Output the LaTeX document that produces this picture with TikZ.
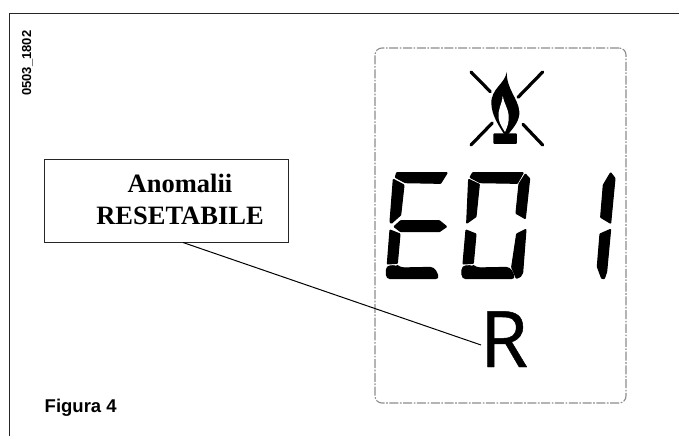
\documentclass[tikz,border=0pt]{standalone}
\usepackage{fontspec}
\setmainfont{Liberation Serif}
\setsansfont{Liberation Sans}
\newfontfamily\rfont[FakeBold=0.6]{Open Sans}
\tikzset{
  seg/.style={fill=black,draw=black,line width=1.1pt,line join=round,rounded corners=0.6pt},
  xline/.style={draw=black,line width=3.2pt,line cap=round},
  boxlabel/.style={draw=black!85,line width=1pt,fill=white,inner sep=0pt,minimum width=243.5pt,minimum height=83pt,align=center},
  dashframe/.style={draw=black!45,line width=1.1pt,rounded corners=7pt,dash pattern=on 9pt off 1.6pt on 1.6pt off 1.6pt},
  zoomA/.style={shift={(360,40)},x=0.3333pt,y=-0.3333pt},
  zoomB/.style={shift={(370,160)},x=0.3333pt,y=-0.3333pt}
}
\begin{document}
\begin{tikzpicture}[x=1pt,y=-1pt]
\useasboundingbox (0,0) rectangle (679,436);
% page frame
\coordinate (fa) at (9.5,436);
\coordinate (fb) at (9.5,13.5);
\coordinate (fc) at (679,13.5);
\draw[black!85,line width=1.1pt] (fa) -- (fb) -- (fc);
% reference code
\node[rotate=90,anchor=south west,inner sep=0pt,font=\sffamily\bfseries\fontsize{13}{13}\selectfont] (code) at (33,96) {0503\_1802};
% display frame
\node[dashframe,minimum width=251pt,minimum height=355pt,inner sep=0pt] (disp) at (500.5,225.5) {};
% flame symbol
\begin{scope}[zoomA]
  \draw[xline] (333,96) -- (391,155);
  \draw[xline] (548,96) -- (474,172);
  \draw[xline] (333,315) -- (397,249);
  \draw[xline] (548,315) -- (489,253);
  \fill[black] (440,95) .. controls (437,130) and (393,145) .. (394,190)
     .. controls (395,225) and (415,255) .. (432,282)
     -- (445,282) .. controls (462,262) and (480,240) .. (478,215)
     .. controls (475,175) and (440,150) .. (440,95) -- cycle;
  \fill[white] (428,168) .. controls (426,195) and (413,205) .. (416,235)
     .. controls (418,250) and (428,265) .. (435,276)
     .. controls (442,262) and (448,245) .. (446,225)
     .. controls (444,205) and (432,190) .. (428,168) -- cycle;
  \fill[black,rounded corners=1pt] (400,280) rectangle (471,312);
\end{scope}
% seven-segment digits
\begin{scope}[zoomB]
  % E
  \path[seg] (80,38) -- (232,38) -- (212,70) -- (106,68) -- (76,52) -- cycle;
  \path[seg] (70,58) -- (102,75) -- (92,165) -- (64,190) -- (60,186) -- cycle;
  \path[seg] (72,200) -- (92,182) -- (208,182) -- (230,200) -- (208,215) -- (92,215) -- cycle;
  \path[seg] (60,210) -- (90,222) -- (82,310) -- (52,312) -- cycle;
  \path[seg,rounded corners=4pt] (49,318) -- (82,317) -- (90,324) -- (192,322) -- (208,356) -- (49,356) -- cycle;
  % 0
  \path[seg] (308,38) -- (460,38) -- (442,70) -- (330,68) -- (300,52) -- cycle;
  \path[seg] (466,42) -- (479,56) -- (466,176) -- (438,160) -- (447,72) -- cycle;
  \path[seg] (296,58) -- (328,73) -- (318,170) -- (290,190) -- cycle;
  \path[seg] (288,210) -- (318,222) -- (310,310) -- (279,312) -- cycle;
  \path[seg] (440,222) -- (468,208) -- (458,338) -- (451,350) -- (439,355) -- (425,322) -- cycle;
  \path[seg,rounded corners=4pt] (276,318) -- (310,317) -- (318,324) -- (420,322) -- (436,356) -- (276,356) -- cycle;
  % 1
  \path[seg] (722,38) -- (735,55) -- (722,190) -- (692,172) -- (700,75) -- cycle;
  \path[seg] (722,208) -- (710,335) -- (703,356) -- (695,355) -- (682,320) -- (690,222) -- cycle;
\end{scope}
% R
\node[font=\rfont\fontsize{78}{78}\selectfont,anchor=base,inner sep=0pt] (rr) at (504,367) {R};
% label box
\node[boxlabel] (box) at (166.5,200.5) {};
\node[font=\bfseries\fontsize{26.5}{26.5}\selectfont,anchor=base,inner sep=0pt] (t1) at (180,192) {Anomalii};
\node[font=\bfseries\fontsize{26.5}{26.5}\selectfont,anchor=base,inner sep=0pt] (t2) at (180,224) {RESETABILE};
% leader
\coordinate (la) at (183,242.5);
\coordinate (lb) at (481,345);
\draw[black,line width=1pt] (la) -- (lb);
% caption
\node[font=\sffamily\bfseries\fontsize{18.5}{18.5}\selectfont,anchor=base west,inner sep=0pt] (fig) at (44.5,412) {Figura 4};
\end{tikzpicture}
\end{document}
